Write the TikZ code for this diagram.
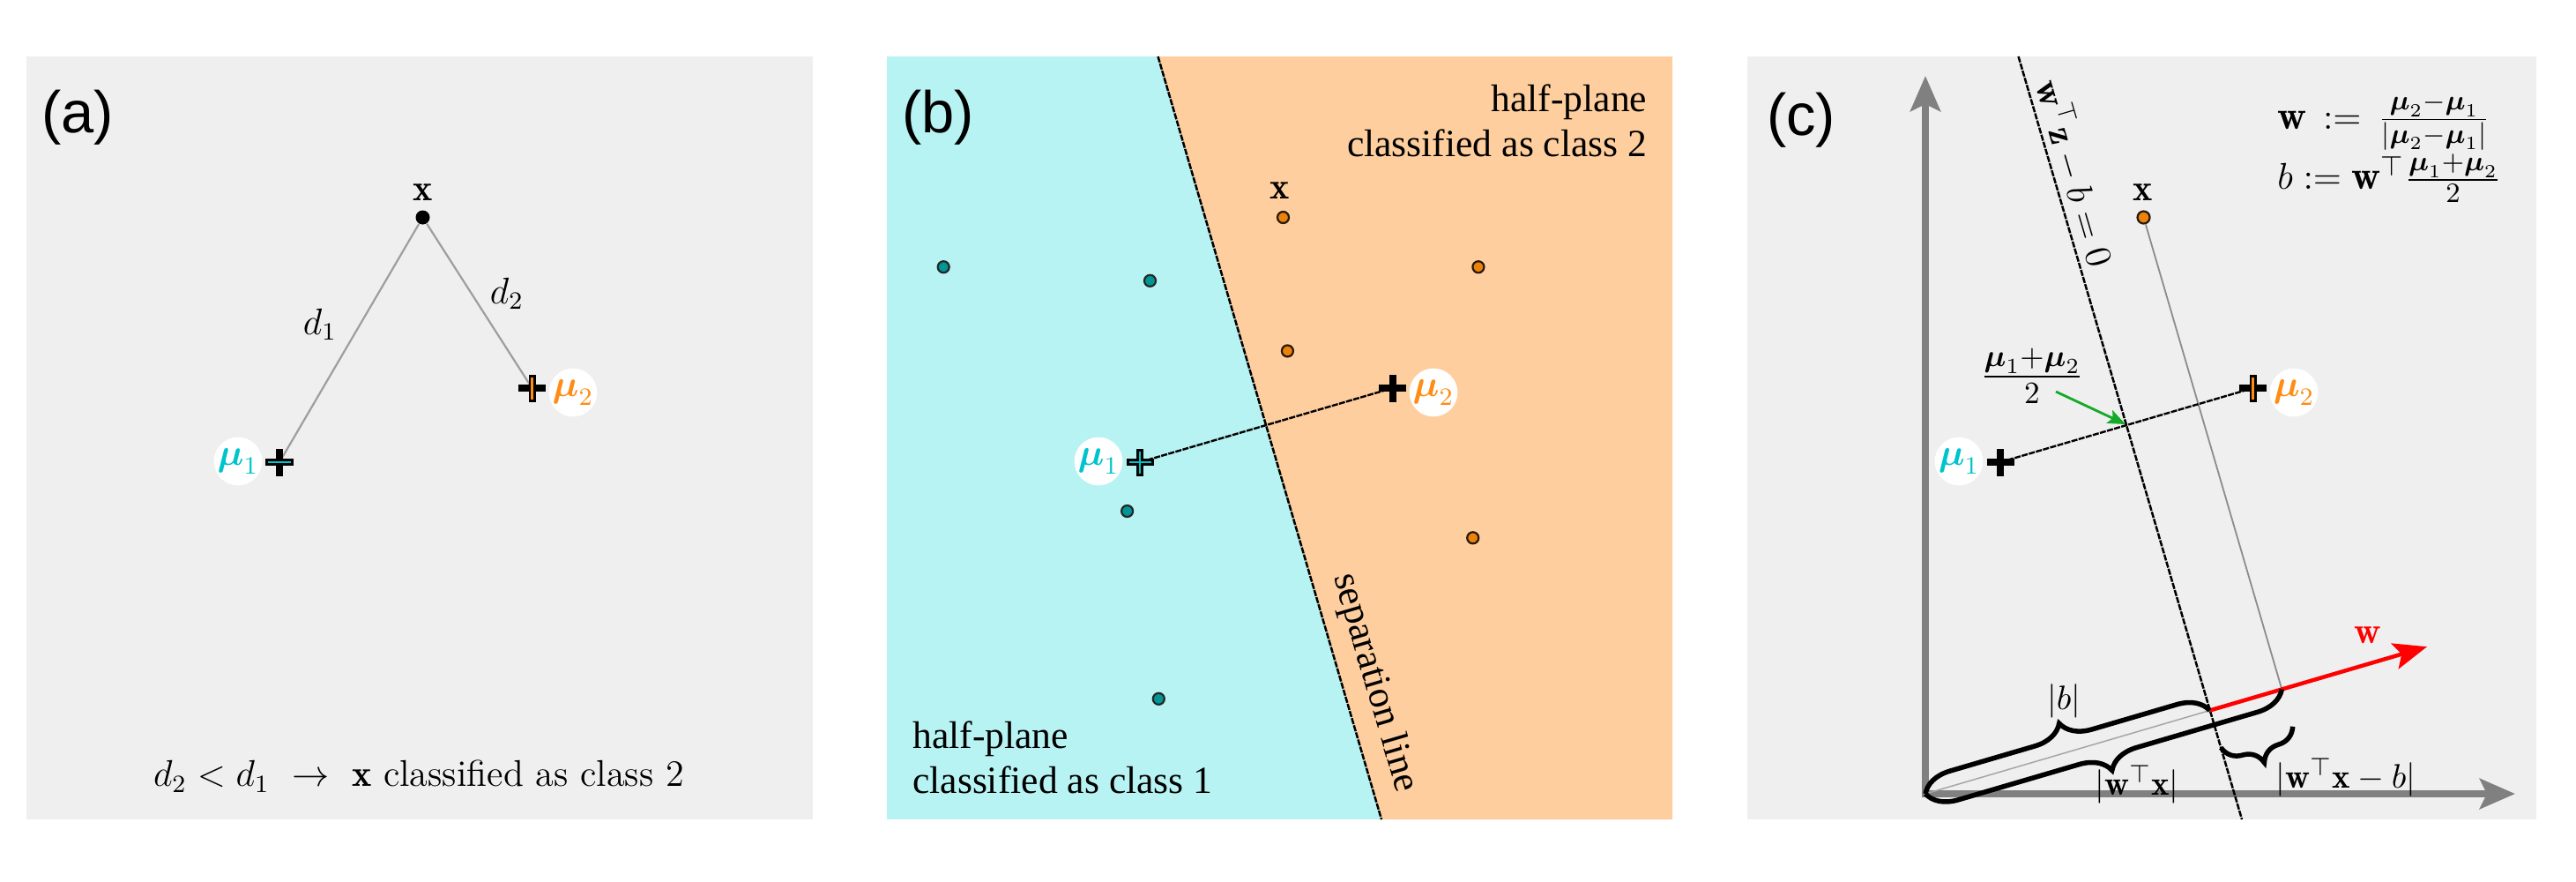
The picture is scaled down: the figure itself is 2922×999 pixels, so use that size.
\documentclass[tikz,border=0pt]{standalone}
\usepackage{amsmath,amssymb}
\usepackage{fontspec}
\newfontfamily\labfont{Liberation Sans}
\newfontfamily\serfont{Liberation Serif}
\usetikzlibrary{arrows.meta,decorations.pathreplacing}
\definecolor{panelgray}{RGB}{239,239,239}
\definecolor{halfcyan}{RGB}{183,243,242}
\definecolor{halfpeach}{RGB}{254,206,158}
\definecolor{mucyan}{RGB}{0,196,204}
\definecolor{muorange}{RGB}{255,140,20}
\definecolor{dotteal}{RGB}{0,150,150}
\definecolor{dotorange}{RGB}{235,130,10}
\definecolor{axisgray}{RGB}{128,128,128}
\definecolor{arrowgreen}{RGB}{20,170,40}
\begin{document}
\begin{tikzpicture}[x=0.01cm,y=-0.01cm,
  mathlab/.style={font=\fontsize{12}{14}\selectfont, inner sep=1pt},
  formlab/.style={font=\fontsize{13}{15}\selectfont, inner sep=1pt},
  smalllab/.style={font=\fontsize{11}{13}\selectfont, inner sep=1pt},
  panellab/.style={font=\labfont\fontsize{19}{22}\selectfont},
  sertext/.style={font=\serfont\fontsize{12.4}{14.4}\selectfont, inner sep=0pt},
  mulab/.style={circle, fill=white, inner sep=0pt, minimum size=0.54cm, font=\fontsize{12}{14}\selectfont},
  distline/.style={draw=black!38, line width=0.022cm},
  sepline/.style={draw=black, line width=0.025cm, dash pattern=on 0.07cm off 0.014cm},
  muline/.style={draw=black, line width=0.024cm, dash pattern=on 0.07cm off 0.014cm},
  plusblack/.style={draw=black, line width=0.08cm},
  plusin/.style={draw=#1, line width=0.028cm},
  blackdot/.style={circle, fill=black, inner sep=0pt, minimum size=0.16cm},
  tdot/.style={circle, draw=black!85, fill=dotteal, line width=0.022cm, inner sep=0pt, minimum size=0.13cm},
  odot/.style={circle, draw=black!80!brown, fill=dotorange, line width=0.022cm, inner sep=0pt, minimum size=0.13cm},
  axisline/.style={draw=axisgray, line width=0.08cm, line join=miter},
  thinaxis/.style={draw=black!35, line width=0.015cm},
  projline/.style={draw=black!45, line width=0.018cm},
  bracestyle/.style={draw=black, line width=0.055cm, decorate},
  redarrow/.style={draw=red, line width=0.045cm, -{Stealth[length=0.38cm,width=0.3cm,inset=0.08cm]}},
  greenarrow/.style={draw=arrowgreen, line width=0.028cm, -{Stealth[length=0.2cm,width=0.16cm,inset=0.04cm]}}
]
\useasboundingbox (0,0) rectangle (2922,999);

% ---------- backgrounds ----------
\fill[panelgray] (30,64) rectangle (922,929);
\fill[halfcyan] (1006,64) rectangle (1897,929);
\fill[halfpeach] (1313.5,64) -- (1897,64) -- (1897,929) -- (1567,929) -- cycle;
\fill[panelgray] (1982,64) rectangle (2877,929);

% ---------- panel labels ----------
\node[panellab] (la) at (88,133) {(a)};
\node[panellab] (lb) at (1064,133) {(b)};
\node[panellab] (lc) at (2043,136) {(c)};

% ================= panel (a) =================
\node[blackdot] (ax) at (479.5,246.5) {};
\coordinate (amu1) at (317,524);
\coordinate (amu2) at (603.5,440);
\draw[distline] (ax) -- (amu1);
\draw[distline] (ax) -- (amu2);
\node[mathlab] (axl) at (480,218) {$\mathbf{x}$};
\node[mathlab] (ad1) at (363,368) {$d_1$};
\node[mathlab] (ad2) at (575,333) {$d_2$};
\draw[plusblack] ([xshift=-0.155cm]amu1) -- ([xshift=0.155cm]amu1) ([yshift=-0.155cm]amu1) -- ([yshift=0.155cm]amu1);
\draw[plusin=mucyan] ([xshift=-0.125cm]amu1) -- ([xshift=0.125cm]amu1);
\draw[plusblack] ([xshift=-0.155cm]amu2) -- ([xshift=0.155cm]amu2) ([yshift=-0.155cm]amu2) -- ([yshift=0.155cm]amu2);
\draw[plusin=muorange] ([yshift=-0.125cm]amu2) -- ([yshift=0.125cm]amu2);
\node[mulab, text=mucyan] (amu1l) at (270,523) {$\boldsymbol{\mu}_1$};
\node[mulab, text=muorange] (amu2l) at (650,445) {$\boldsymbol{\mu}_2$};
\node[mathlab] (acap) at (475,880) {$d_2<d_1\ \rightarrow\ \mathbf{x}$ classified as class 2};

% ================= panel (b) =================
\coordinate (bs1) at (1313.5,64);
\coordinate (bs2) at (1567,929);
\draw[sepline] (bs1) -- (bs2);
\coordinate (bmu1) at (1293,524);
\coordinate (bmu2) at (1579.5,440);
\draw[muline] (bmu1) -- (bmu2);
\node[tdot] (bt1) at (1070.2,302.7) {};
\node[tdot] (bt2) at (1304.5,318.3) {};
\node[tdot] (bt3) at (1278.6,579.5) {};
\node[tdot] (bt4) at (1314.3,792.3) {};
\node[odot] (bx) at (1455.5,246.5) {};
\node[odot] (bo2) at (1676.9,302.7) {};
\node[odot] (bo3) at (1460.4,397.9) {};
\node[odot] (bo4) at (1670.7,609.8) {};
\node[mathlab] (bxl) at (1452,216) {$\mathbf{x}$};
\draw[plusblack] ([xshift=-0.155cm]bmu1) -- ([xshift=0.155cm]bmu1) ([yshift=-0.155cm]bmu1) -- ([yshift=0.155cm]bmu1);
\draw[plusin=mucyan] ([xshift=-0.125cm]bmu1) -- ([xshift=0.125cm]bmu1) ([yshift=-0.125cm]bmu1) -- ([yshift=0.125cm]bmu1);
\draw[plusblack] ([xshift=-0.155cm]bmu2) -- ([xshift=0.155cm]bmu2) ([yshift=-0.155cm]bmu2) -- ([yshift=0.155cm]bmu2);
\node[mulab, text=mucyan] (bmu1l) at (1246,523) {$\boldsymbol{\mu}_1$};
\node[mulab, text=muorange] (bmu2l) at (1626,445) {$\boldsymbol{\mu}_2$};
\node[sertext, anchor=east, align=right] (bh2) at (1869,137) {half-plane\\classified as class 2};
\node[sertext, anchor=west, align=left] (bh1) at (1034.5,859) {half-plane\\classified as class 1};
\node[sertext, rotate=-73.66] (bsl) at (1559,774) {separation line};

% ================= panel (c) =================
\coordinate (cO) at (2184,900);
\coordinate (cYt) at (2184,86);
\coordinate (cXt) at (2853,900);
\draw[axisline, {Stealth[length=0.4cm,width=0.34cm,inset=0.08cm]}-{Stealth[length=0.4cm,width=0.34cm,inset=0.08cm]}] (cYt) -- (cO) -- (cXt);
\coordinate (cs1) at (2289.5,64);
\coordinate (cs2) at (2543,929);
\draw[sepline] (cs1) -- (cs2);
\node[mathlab, rotate=-73.66] (csl) at (2354,196) {$\mathbf{w}^{\top}\mathbf{z}-b=0$};
\coordinate (cPs) at (2506.8,805.4);
\coordinate (cXp) at (2588.3,781.5);
\coordinate (cW) at (2753,733.2);
\node[odot, minimum size=0.14cm] (cx) at (2431.5,246.5) {};
\node[mathlab] (cxl) at (2431,218) {$\mathbf{x}$};
\draw[projline] (cx) -- (cXp);
\draw[thinaxis] (cO) -- (cPs);
\draw[redarrow] (cPs) -- (cW);
\node[mathlab, text=red] (cwl) at (2686,720) {$\mathbf{w}$};
\coordinate (cmu1) at (2269,524);
\coordinate (cmu2) at (2555.5,440);
\coordinate (cmid) at (2411,481);
\draw[muline] (cmu1) -- (cmu2);
\draw[plusblack] ([xshift=-0.155cm]cmu1) -- ([xshift=0.155cm]cmu1) ([yshift=-0.155cm]cmu1) -- ([yshift=0.155cm]cmu1);
\draw[plusblack] ([xshift=-0.155cm]cmu2) -- ([xshift=0.155cm]cmu2) ([yshift=-0.155cm]cmu2) -- ([yshift=0.155cm]cmu2);
\draw[plusin=muorange] ([yshift=-0.125cm]cmu2) -- ([yshift=0.125cm]cmu2);
\node[mulab, text=mucyan] (cmu1l) at (2222,523) {$\boldsymbol{\mu}_1$};
\node[mulab, text=muorange] (cmu2l) at (2602,445) {$\boldsymbol{\mu}_2$};
\node[font=\fontsize{14.5}{16}\selectfont, inner sep=1pt] (cmidl) at (2305,426) {$\frac{\boldsymbol{\mu}_1+\boldsymbol{\mu}_2}{2}$};
\coordinate (cgs) at (2332,444);
\draw[greenarrow] (cgs) -- (cmid);
% braces
\draw[bracestyle, decoration={brace, amplitude=0.34cm}] (cO) -- (cPs);
\draw[bracestyle, decoration={brace, mirror, amplitude=0.34cm}] (cO) -- (cXp);
\draw[bracestyle, decoration={brace, mirror, amplitude=0.3cm, raise=0.44cm}] (cPs) -- (cXp);
\node[smalllab] (cbl) at (2341,795) {$|b|$};
\node[smalllab] (cwxl) at (2424,890) {$|\mathbf{w}^{\top}\mathbf{x}|$};
\node[smalllab] (cwxbl) at (2661,882) {$|\mathbf{w}^{\top}\mathbf{x}-b|$};
% formulas
\node[formlab, anchor=west] (cf1) at (2579,138) {$\mathbf{w}\,:=\,\frac{\boldsymbol{\mu}_2-\boldsymbol{\mu}_1}{|\boldsymbol{\mu}_2-\boldsymbol{\mu}_1|}$};
\node[formlab, anchor=west] (cf2) at (2579,202) {$b:=\mathbf{w}^{\top}\frac{\boldsymbol{\mu}_1+\boldsymbol{\mu}_2}{2}$};
\end{tikzpicture}
\end{document}
